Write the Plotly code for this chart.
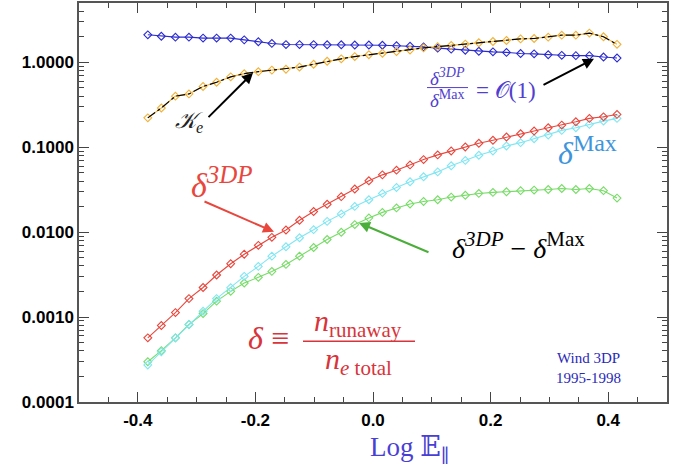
import plotly.graph_objects as go

# ---------------- data ----------------
log_E = [-0.383, -0.360, -0.336, -0.313, -0.289, -0.266, -0.242, -0.219, -0.195,
         -0.172, -0.148, -0.125, -0.101, -0.078, -0.054, -0.031, -0.007, 0.016,
         0.040, 0.063, 0.086, 0.110, 0.133, 0.157, 0.180, 0.204, 0.227, 0.251,
         0.274, 0.298, 0.321, 0.345, 0.368, 0.392, 0.415]

ratio_3dp_max = [2.11, 2.03, 1.98, 1.98, 1.93, 1.93, 1.93, 1.84, 1.75, 1.67, 1.62,
                 1.62, 1.62, 1.61, 1.61, 1.60, 1.60, 1.59, 1.57, 1.55, 1.52, 1.47,
                 1.43, 1.39, 1.35, 1.33, 1.31, 1.27, 1.26, 1.23, 1.21, 1.20, 1.20,
                 1.155, 1.124]

kappa_e = [0.222, 0.290, 0.400, 0.425, 0.520, 0.583, 0.675, 0.736, 0.777, 0.810,
           0.830, 0.880, 0.950, 1.03, 1.10, 1.17, 1.23, 1.28, 1.34, 1.40, 1.48,
           1.53, 1.58, 1.64, 1.70, 1.76, 1.81, 1.89, 1.91, 1.98, 2.09, 2.09, 2.21,
           2.00, 1.63]

delta_3dp = [5.7e-4, 7.95e-4, 1.13e-3, 1.65e-3, 2.23e-3, 3.13e-3, 4.25e-3, 5.5e-3,
             7.0e-3, 8.7e-3, 0.0106, 0.0138, 0.0175, 0.0213, 0.0262, 0.0322, 0.0403,
             0.0473, 0.0537, 0.0620, 0.0716, 0.0813, 0.0905, 0.1008, 0.1114, 0.1208,
             0.132, 0.1443, 0.1553, 0.1698, 0.1826, 0.1996, 0.2187, 0.2284, 0.2436]

delta_max = [2.73e-4, 3.91e-4, 5.70e-4, 8.18e-4, 1.17e-3, 1.65e-3, 2.22e-3, 3.02e-3,
             3.95e-3, 5.22e-3, 6.73e-3, 8.6e-3, 0.0107, 0.0134, 0.0164, 0.0201,
             0.0241, 0.0286, 0.0336, 0.0392, 0.0449, 0.0513, 0.0605, 0.0700, 0.0805,
             0.0905, 0.1036, 0.1133, 0.126, 0.1394, 0.158, 0.170, 0.186, 0.2033, 0.2187]

delta_diff = [2.98e-4, 4.02e-4, 5.70e-4, 8.18e-4, 1.10e-3, 1.54e-3, 2.01e-3, 2.52e-3,
              2.94e-3, 3.45e-3, 4.17e-3, 5.22e-3, 6.6e-3, 8.2e-3, 9.97e-3, 0.01228,
              0.01472, 0.0171, 0.0193, 0.0215, 0.0230, 0.0241, 0.0259, 0.0272, 0.0286,
              0.0294, 0.0299, 0.0308, 0.0313, 0.0318, 0.0327, 0.0318, 0.0327, 0.0308,
              0.0252]

x_tick_vals = [-0.4, -0.2, 0.0, 0.2, 0.4]
x_tick_text = ["-0.4", "-0.2", "0.0", "0.2", "0.4"]
y_tick_vals = [0.0001, 0.001, 0.01, 0.1, 1.0]
y_tick_text = ["0.0001", "0.0010", "0.0100", "0.1000", "1.0000"]

# ---------------- styles ----------------
C_BLUE = "#2b2bcf"
C_ORANGE = "#f0b23a"
C_RED = "#e8473d"
C_CYAN = "#80e6f2"
C_GREEN = "#78dc68"
SERIF = "Liberation Serif, DejaVu Serif, serif"
SANS = "Liberation Sans, Arial, sans-serif"

W, H = 688, 471
L, R, T, B = 79, 21, 1, 69
PW, PH = W - L - R, H - T - B


def P(xp, yp):
    """pixel -> paper coords"""
    return (xp - L) / PW, (H - B - yp) / PH


def sup(s, px):
    return f"<sup><span style='font-size:{px}px'>{s}</span></sup>"


fig = go.Figure()


def add_series(y, color, width=1.1):
    fig.add_trace(go.Scatter(
        x=log_E, y=y, mode="lines+markers",
        line=dict(color=color, width=width),
        marker=dict(symbol="diamond-open", size=6, color=color,
                    line=dict(color=color, width=1.1)),
        showlegend=False, hoverinfo="skip"))


add_series(ratio_3dp_max, C_BLUE)
add_series(kappa_e, C_ORANGE)
fig.add_trace(go.Scatter(x=log_E, y=kappa_e, mode="lines",
                         line=dict(color="black", width=1.2, dash="dashdot"),
                         showlegend=False, hoverinfo="skip"))
add_series(delta_diff, C_GREEN)
add_series(delta_max, C_CYAN)
add_series(delta_3dp, C_RED)

ann = []


def text(xp, yp, s, size, color, font=SERIF, xanchor="center", yanchor="middle"):
    x, y = P(xp, yp)
    ann.append(dict(x=x, y=y, xref="paper", yref="paper", text=s, showarrow=False,
                    font=dict(family=font, size=size, color=color),
                    xanchor=xanchor, yanchor=yanchor))


def arrow(hx, hy, tx, ty, color, width=2):
    x, y = P(hx, hy)
    ann.append(dict(x=x, y=y, xref="paper", yref="paper", text="", showarrow=True,
                    ax=tx - hx, ay=ty - hy, axref="pixel", ayref="pixel",
                    arrowhead=2, arrowsize=1.1, arrowwidth=width, arrowcolor=color))


# K_e label
text(189, 121, "<i>𝒦</i><sub><i>e</i></sub>", 23, "#222")
arrow(253, 71, 207, 117, "black")

# ratio label (fraction)
text(447, 75, "<i>δ</i>" + sup("<i>3DP</i>", 14), 19, "#5040d0")
text(447, 97, "<i>δ</i>" + sup("Max", 14), 19, "#5040d0")
text(474, 89, "= 𝒪(1)", 23, "#5040d0", xanchor="left")
arrow(594, 57, 542, 84, "black")

# delta 3DP label
text(222, 181, "<i>δ</i>" + sup("<i>3DP</i>", 25), 34, C_RED)
arrow(274, 231, 203, 200, C_RED)

# delta Max
text(587, 149, "<i>δ</i>" + sup("Max", 24), 32, "#3f95dc")

# difference label
text(518, 245, "<i>δ</i>" + sup("<i>3DP</i>", 21) + " − <i>δ</i>" + sup("Max", 21),
     28, "black")
arrow(359, 222, 430, 252, "#4cae3a")

# definition
text(268, 338, "<i>δ</i> ≡", 32, "#d8343a")
text(358, 323, "<i>n</i><sub>runaway</sub>", 30, "#d8343a")
text(358, 361, "<i>n</i><sub><i>e</i> total</sub>", 30, "#d8343a")

# Wind 3DP
text(588, 358, "Wind 3DP", 15, "#2a2ab8")
text(588, 378, "1995-1998", 15, "#2a2ab8")

# axis title
text(410, 449, "Log 𝔼<sub>∥</sub>", 27, "#4a3fd4")

x0, y0 = P(303, 341)
x1, _ = P(415, 341)
shapes = [dict(type="line", xref="paper", yref="paper", x0=x0, x1=x1, y0=y0, y1=y0,
               line=dict(color="#d8343a", width=1.4))]
x0, y0 = P(427, 86)
x1, _ = P(468, 86)
shapes.append(dict(type="line", xref="paper", yref="paper", x0=x0, x1=x1, y0=y0, y1=y0,
                   line=dict(color="#5040d0", width=1)))

minor_y = [m * 10 ** e for e in range(-4, 1) for m in range(2, 10)]

fig.update_layout(
    width=W, height=H,
    margin=dict(l=L, r=R, t=T, b=B),
    paper_bgcolor="white", plot_bgcolor="white",
    annotations=ann, shapes=shapes,
    xaxis=dict(range=[-0.5, 0.5], tickmode="array", tickvals=x_tick_vals,
               ticktext=x_tick_text, ticks="inside", ticklen=10, tickwidth=1.2,
               tickcolor="#444", showline=True, linecolor="#555", linewidth=1.5,
               mirror="allticks", showgrid=False, zeroline=False,
               tickfont=dict(family=SANS, size=17, color="black", weight="bold"),
               ticklabelstandoff=2,
               minor=dict(ticks="inside", ticklen=5, tickcolor="#444", dtick=0.05,
                          showgrid=False)),
    yaxis=dict(type="log", range=[-4, 0.699], tickmode="array", tickvals=y_tick_vals,
               ticktext=y_tick_text, ticks="inside", ticklen=10, tickwidth=1.2,
               tickcolor="#444", showline=True, linecolor="#555", linewidth=1.5,
               mirror="allticks", showgrid=False, zeroline=False,
               tickfont=dict(family=SANS, size=17, color="black", weight="bold"),
               ticklabelstandoff=0,
               minor=dict(ticks="inside", ticklen=5, tickcolor="#444",
                          tickmode="array", tickvals=minor_y, showgrid=False)),
)

fig.write_html("out.html")
